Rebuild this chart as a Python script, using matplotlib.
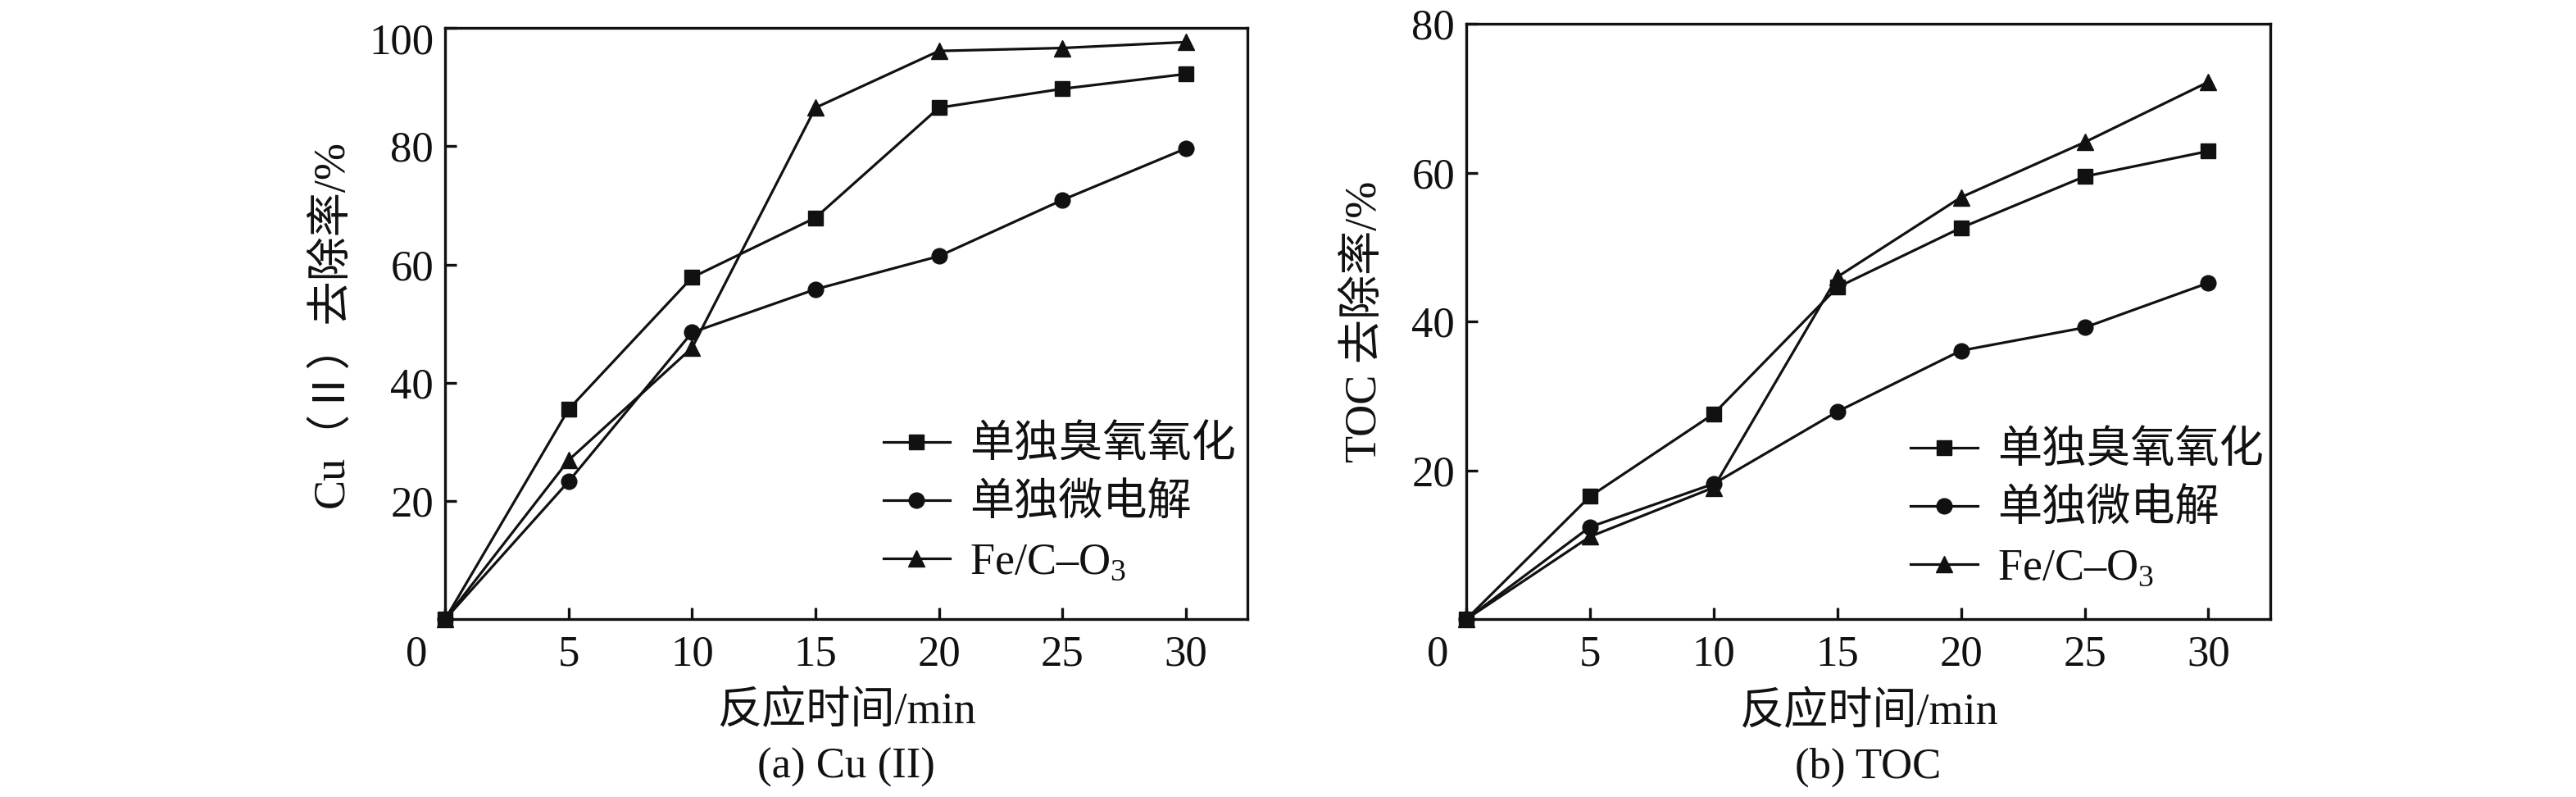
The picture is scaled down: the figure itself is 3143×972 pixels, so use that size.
import matplotlib
matplotlib.use("Agg")
import matplotlib.pyplot as plt
import matplotlib.transforms as mtransforms

plt.rcParams['font.family'] = ['Liberation Serif', 'Noto Sans CJK SC', 'DejaVu Sans']
plt.rcParams['mathtext.fontset'] = 'custom'
plt.rcParams['mathtext.rm'] = 'Liberation Serif'

# data
t = [0, 5, 10, 15, 20, 25, 30]
series_names = ['单独臭氧氧化', '单独微电解', 'Fe/C–O$_3$']

cu_ozone = [0, 35.5, 57.8, 67.9, 86.5, 89.7, 92.2]
cu_micro = [0, 23.3, 48.5, 55.8, 61.4, 70.9, 79.6]
cu_fec = [0, 26.9, 45.9, 86.5, 96.1, 96.6, 97.6]

toc_ozone = [0, 16.5, 27.6, 44.6, 52.6, 59.5, 62.9]
toc_micro = [0, 12.4, 18.2, 27.9, 36.1, 39.2, 45.2]
toc_fec = [0, 11.1, 17.7, 46.0, 56.7, 64.1, 72.2]

xticks = [0, 5, 10, 15, 20, 25, 30]
cu_yticks = [20, 40, 60, 80, 100]
toc_yticks = [20, 40, 60, 80]

FS = 38
LW = 2.4
markers = ['s', 'o', '^']
msizes = [13, 13.5, 15]


def shift(fig, artist, dx, dy):
    # move a text artist by a pixel offset
    off = mtransforms.ScaledTranslation(dx / 100, dy / 100, fig.dpi_scale_trans)
    artist.set_transform(artist.get_transform() + off)


def panel(fig, rect, series, ymax, yticks, ylabel, caption, leg_anchor, ylab_x):
    ax = fig.add_axes(rect)
    for ys, m, ms, name in zip(series, markers, msizes, series_names):
        ax.plot(t, ys, color='#111111', lw=2.3, marker=m, ms=ms, label=name,
                clip_on=False, zorder=3)
    ax.set_xlim(0, 32.5)
    ax.set_ylim(0, ymax)
    ax.set_xticks(xticks)
    ax.set_yticks(yticks)
    ax.tick_params(direction='in', length=10, width=LW, labelsize=FS, pad=14,
                   color='#111111', labelcolor='#111111')
    ax.tick_params(axis='y', pad=10)
    for s in ax.spines.values():
        s.set_linewidth(LW)
        s.set_color('#111111')
    ax.set_xlabel('反应时间/min', fontsize=FS + 1, color='#111111')
    ax.xaxis.set_label_coords(0.5, -0.122)
    ax.set_ylabel(ylabel, fontsize=FS + 1, color='#111111')
    ax.yaxis.set_label_coords(ylab_x, 0.5)
    fig.canvas.draw()
    shift(fig, ax.get_xticklabels()[0], -35, 0)
    leg = ax.legend(loc='lower left', bbox_to_anchor=leg_anchor, frameon=False,
                    fontsize=FS + 1, handlelength=1.5, handletextpad=0.45,
                    labelspacing=0.38, borderpad=0, borderaxespad=0)
    for txt in leg.get_texts():
        txt.set_color('#111111')
    cx = rect[0] + rect[2] / 2
    fig.text(cx, 0.037, caption, ha='center', va='center', fontsize=FS,
             color='#111111')
    return ax


fig = plt.figure(figsize=(31.43, 9.72), dpi=100)

ax1 = panel(fig, [0.1728, 0.223, 0.3115, 0.742], [cu_ozone, cu_micro, cu_fec],
            100, cu_yticks, 'Cu（Ⅱ）去除率/%', '(a) Cu (II)', (0.546, 0.06), -0.115)
fig.canvas.draw()
shift(fig, ax1.get_yticklabels()[-1], 0, -13)

ax2 = panel(fig, [0.5692, 0.223, 0.3121, 0.747], [toc_ozone, toc_micro, toc_fec],
            80, toc_yticks, 'TOC 去除率/%', '(b) TOC', (0.553, 0.05), -0.10)

fig.savefig('out.png', dpi=100, facecolor='white')
